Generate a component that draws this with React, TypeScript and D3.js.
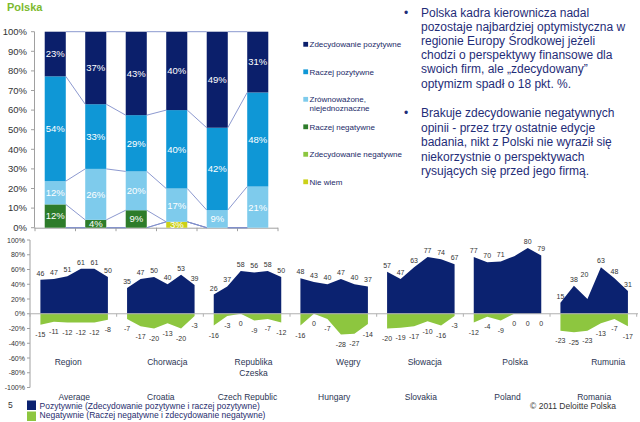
import React from 'react';
import * as d3 from 'd3';

// ---------- data ----------
const waves = ['E1', 'E2', 'E3', 'E4', 'E5', 'E6'];
const zdecydowaniePozytywne = [23, 37, 43, 40, 49, 31];
const raczejPozytywne = [54, 33, 29, 40, 42, 48];
const zrownowazone = [12, 26, 20, 17, 9, 21];
const raczejNegatywne = [12, 4, 9, 0, 0, 0];
const zdecydowanieNegatywne = [0, 0, 0, 0, 0, 0];
const nieWiem = [0, 0, 0, 3, 0, 0];
const topTicks = [0, 10, 20, 30, 40, 50, 60, 70, 80, 90, 100];
const legendItems = [
  ['Zdecydowanie pozytywne'],
  ['Raczej pozytywne'],
  ['Zrównoważone,', 'niejednoznaczne'],
  ['Raczej negatywne'],
  ['Zdecydowanie negatywne'],
  ['Nie wiem'],
];

const groupsEN = ['Average', 'Croatia', 'Czech Republic', 'Hungary', 'Slovakia', 'Poland', 'Romania'];
const groupsPL = [['Region'], ['Chorwacja'], ['Republika', 'Czeska'], ['Węgry'], ['Słowacja'], ['Polska'], ['Rumunia']];
const positive = [
  [46, 47, 51, 61, 61, 50],
  [35, 47, 50, 40, 53, 39],
  [26, 37, 58, 56, 58, 50],
  [48, 43, 40, 47, 40, 37],
  [57, 47, 63, 77, 74, 67],
  [77, 70, 71, 78, 89, 79],
  [15, 38, 20, 63, 48, 31],
];
const positiveLabels = [
  ['46', '47', '51', '61', '61', '50'],
  ['35', '47', '50', '40', '53', '39'],
  ['26', '37', '58', '56', '58', '50'],
  ['48', '43', '40', '47', '40', '37'],
  ['57', '47', '63', '77', '74', '67'],
  ['77', '70', '71', '', '80', '79'],
  ['15', '38', '20', '63', '48', '31'],
];
const negative = [
  [-15, -11, -12, -12, -12, -8],
  [-7, -17, -20, -13, -20, -3],
  [-16, -3, 0, -9, -7, -12],
  [-16, 0, -7, -28, -27, -14],
  [-20, -19, -17, -10, -16, -3],
  [-12, -4, -9, 0, 0, 0],
  [-23, -25, -23, -13, -7, -17],
];
const bottomTicks = [-100, -80, -60, -40, -20, 0, 20, 40, 60, 80, 100];

const paragraph1 = [
  'Polska kadra kierownicza nadal',
  'pozostaje najbardziej optymistyczna w',
  'regionie Europy Środkowej jeżeli',
  'chodzi o perspektywy finansowe dla',
  'swoich firm, ale „zdecydowany”',
  'optymizm spadł o 18 pkt. %.',
];
const paragraph2 = [
  'Brakuje zdecydowanie negatywnych',
  'opinii - przez trzy ostatnie edycje',
  'badania, nikt z Polski nie wyraził się',
  'niekorzystnie o perspektywach',
  'rysujących się przed jego firmą.',
];
const footerLegend = [
  'Pozytywnie (Zdecydowanie pozytywne i raczej pozytywne)',
  'Negatywnie (Raczej negatywne i zdecydowanie negatywne)',
];

// ---------- styles / layout ----------
const FONT = "Arial, 'Liberation Sans', Helvetica, sans-serif";
const topColors = ['#0b1f6b', '#0f97d6', '#7ecbec', '#2d7c2a', '#8cc63f', '#cbd118'];
const NAVY = '#0b2270';
const LIME = '#8dc63f';
const TEXT_BLUE = '#1f2d78';
const AXIS = '#a0a0a0';
const plLabelNudge = [-6, 6.5, 6, 14, 4, 7.6, 14];
// manual label nudges (group index -> point index -> [dx, dy])
const posLabelNudge: Record<string, [number, number]> = { '6-2': [-3, -18] };

export default function App() {
  // ---- top stacked bar chart ----
  const seriesArrays = [zdecydowaniePozytywne, raczejPozytywne, zrownowazone, raczejNegatywne, zdecydowanieNegatywne, nieWiem];
  const rows = waves.map((w, i) => {
    const r: any = { wave: w };
    seriesArrays.forEach((arr, s) => (r['s' + s] = arr[i]));
    return r;
  });
  const keysBottomUp = ['s5', 's4', 's3', 's2', 's1', 's0'];
  const stacked = d3.stack().keys(keysBottomUp).offset(d3.stackOffsetExpand)(rows);

  const xTop = d3.scaleBand().domain(waves).range([35, 278]).padding(0);
  const barW = xTop.bandwidth() * 0.52;
  const barX = (w: string) => (xTop(w) as number) + (xTop.bandwidth() - barW) / 2;
  const yTop = d3.scaleLinear().domain([0, 1]).range([227.7, 31.7]);

  // ---- bottom area chart ----
  const xGroup = d3.scaleBand().domain(groupsEN).range([30, 636.7]).padding(0);
  const yB = d3.scaleLinear().domain([-100, 100]).range([387.5, 240]);
  const inner = (g: string) => {
    const s = xGroup(g) as number;
    return d3.scalePoint<number>().domain(d3.range(6)).range([s + 10.4, s + 77.9]);
  };

  return (
    <svg width={640} height={422} style={{ position: 'absolute', left: 0, top: 0, background: '#fff' }} fontFamily={FONT}>
      <rect x={0} y={0} width={640} height={422} fill="#fff" />
      {/* Title */}
      <text x={7} y={10.5} fontSize={11} fontWeight="bold" fill="#7dba2f">Polska</text>

      {/* top y axis */}
      <line x1={34.5} x2={34.5} y1={yTop(1)} y2={yTop(0)} stroke={AXIS} strokeWidth={1} />
      {topTicks.map((t) => (
        <g key={t}>
          <line x1={31} x2={34.5} y1={yTop(t / 100)} y2={yTop(t / 100)} stroke={AXIS} />
          <text x={27} y={yTop(t / 100) + 3.3} fontSize={9.5} textAnchor="end" fill="#333">{t}%</text>
        </g>
      ))}
      {/* top x axis */}
      <line x1={34.5} x2={278} y1={yTop(0) + 0.5} y2={yTop(0) + 0.5} stroke={AXIS} />
      {[...waves.map((w) => xTop(w) as number), 278].map((x, i) => (
        <line key={i} x1={x} x2={x} y1={yTop(0)} y2={yTop(0) + 3.5} stroke={AXIS} />
      ))}

      {/* bars */}
      {stacked.map((layer) => {
        const sIdx = +layer.key.slice(1);
        return (
          <g key={layer.key}>
            {layer.map((d, i) => {
              if (d[1] - d[0] <= 0) return null;
              return (
                <rect key={i} x={barX(waves[i])} width={barW} y={yTop(d[1])} height={yTop(d[0]) - yTop(d[1])} fill={topColors[sIdx]} />
              );
            })}
          </g>
        );
      })}
      {/* series lines */}
      {stacked.map((layer) => (
        <g key={'sl' + layer.key}>
          {layer.slice(0, -1).map((d, i) => (
            <line key={i}
              x1={barX(waves[i]) + barW} y1={yTop(d[1])}
              x2={barX(waves[i + 1])} y2={yTop(layer[i + 1][1])}
              stroke="#7f8dc9" strokeWidth={0.9} />
          ))}
        </g>
      ))}
      {/* bar labels */}
      {stacked.map((layer) => {
        const sIdx = +layer.key.slice(1);
        return (
          <g key={'lb' + layer.key}>
            {layer.map((d, i) => {
              const v = seriesArrays[sIdx][i];
              if (!v) return null;
              return (
                <text key={i} x={barX(waves[i]) + barW / 2} y={(yTop(d[0]) + yTop(d[1])) / 2 + 3.4}
                  fontSize={9.5} fill="#fff" textAnchor="middle">{v}%</text>
              );
            })}
          </g>
        );
      })}

      {/* top legend */}
      {legendItems.map((lines, i) => {
        const cy = 44.3 + i * 27.5;
        return (
          <g key={i}>
            <rect x={303.3} y={cy - 2.4} width={4.8} height={4.8} fill={topColors[i]} />
            {lines.map((ln, j) => (
              <text key={j} x={309.5} y={cy + 2.9 + j * 9} fontSize={8} fill="#1b2a68">{ln}</text>
            ))}
          </g>
        );
      })}

      {/* right text */}
      <g fill={TEXT_BLUE} fontSize={12}>
        <text x={404} y={17}>•</text>
        {paragraph1.map((ln, i) => (
          <text key={i} x={421} y={17 + i * 14.1}>{ln}</text>
        ))}
        <text x={404} y={117}>•</text>
        {paragraph2.map((ln, i) => (
          <text key={i} x={421} y={117 + i * 14.5}>{ln}</text>
        ))}
      </g>

      {/* bottom y axis */}
      <line x1={30} x2={30} y1={yB(100)} y2={yB(-100)} stroke={AXIS} />
      {bottomTicks.map((t) => (
        <g key={t}>
          <line x1={27} x2={30} y1={yB(t)} y2={yB(t)} stroke={AXIS} />
          <text x={25} y={yB(t) + 2.5} fontSize={7} textAnchor="end" fill="#333">{t}%</text>
        </g>
      ))}

      {/* areas */}
      {groupsEN.map((g, gi) => {
        const xi = inner(g);
        const area = d3.area<number>().x((_, i) => xi(i) as number).y0(yB(0)).y1((v) => yB(v));
        return (
          <g key={g}>
            <path d={area(positive[gi]) || ''} fill={NAVY} />
            <path d={area(negative[gi]) || ''} fill={LIME} />
          </g>
        );
      })}
      {/* zero line */}
      <line x1={30} x2={638} y1={yB(0)} y2={yB(0)} stroke="#b0b0b0" strokeWidth={1} />
      {d3.range(8).map((k) => {
        const x = 30 + k * xGroup.step();
        return <line key={k} x1={x} x2={x} y1={yB(0)} y2={yB(0) + 3} stroke="#b0b0b0" />;
      })}
      {/* area labels */}
      {groupsEN.map((g, gi) => {
        const xi = inner(g);
        return (
          <g key={'al' + g} fontSize={7} fill="#333" textAnchor="middle">
            {positive[gi].map((v, i) => {
              if (!positiveLabels[gi][i]) return null;
              const [dx, dy] = posLabelNudge[gi + '-' + i] || [0, 0];
              return (
                <text key={'p' + i} x={(xi(i) as number) + dx} y={yB(v) - 4 + dy}>{positiveLabels[gi][i]}</text>
              );
            })}
            {negative[gi].map((v, i) => (
              <text key={'n' + i} x={xi(i) as number} y={yB(v) + 12.5}>{v}</text>
            ))}
          </g>
        );
      })}
      {/* group labels */}
      {groupsEN.map((g, gi) => {
        const cx = (xGroup(g) as number) + (10.4 + 77.9) / 2;
        return (
          <g key={'gl' + g} fontSize={8.5} fill="#2b3553" textAnchor="middle">
            {groupsPL[gi].map((ln, j) => (
              <text key={j} x={cx + plLabelNudge[gi]} y={365.3 + j * 10.5}>{ln}</text>
            ))}
            <text x={cx} y={400.3}>{g}</text>
          </g>
        );
      })}

      {/* footer */}
      <rect x={24} y={401} width={278} height={21} fill="#fff" />
      <text x={8} y={408} fontSize={8.5} fill="#333">5</text>
      <rect x={27} y={400.5} width={9} height={9.5} fill={NAVY} />
      <rect x={27} y={411.5} width={9} height={9.5} fill={LIME} />
      {footerLegend.map((t, i) => (
        <text key={i} x={39.6} y={409 + i * 8.6} fontSize={8.5} fill="#1f2d6e">{t}</text>
      ))}
      <text x={616} y={409.3} fontSize={8.5} fill="#333" textAnchor="end">© 2011 Deloitte Polska</text>
    </svg>
  );
}
